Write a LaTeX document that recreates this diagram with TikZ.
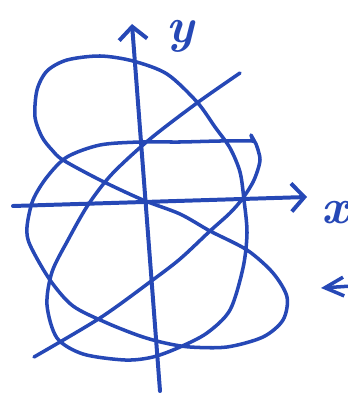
\documentclass[tikz,border=0pt]{standalone}
\usepackage{fontspec}
\usetikzlibrary{arrows.meta}
\definecolor{inkblue}{RGB}{38,72,182}
\tikzset{
  pen/.style={draw=inkblue, line width=3pt, line cap=round, line join=round},
  axis/.style={pen, line width=3.4pt, -{Straight Barb[length=11pt,width=24pt]}},
  letter/.style={text=inkblue, font=\fontsize{42}{42}\selectfont\bfseries\itshape, inner sep=0pt}
}
\begin{document}
\begin{tikzpicture}[x=0.03cm, y=-0.03cm]
  \useasboundingbox (0,0) rectangle (348,404);

  % Axes
  \coordinate (xstart) at (13,206);
  \coordinate (xend) at (307,197);
  \coordinate (ystart) at (160,391);
  \coordinate (yend) at (132,24);
  \draw[axis] (xstart) -- (xend);
  \draw[axis] (ystart) -- (yend);
  \node[letter] (xlabel) at (335,213) {x};
  \node[letter] (ylabel) at (180,36) {y};

  % Arrow cut off at the right edge
  \coordinate (marktail) at (352,286);
  \coordinate (markhead) at (321,288);
  \draw[pen, -{Straight Barb[length=16pt,width=16pt]}] (marktail) -- (markhead);

  % The curve, drawn in one stroke
  \draw[pen] plot[smooth] coordinates {
      (240,73) (197,103) (150,139) (112,174) (88,205) (68,240) (52,272)
      (47,305) (57,338) (83,354) (125,360) (153,357) (180,347) (207,333)
      (230,310) (243,268) (247,233) (244,200) (240,172) (230,148) (215,127)
      (197,102) (167,74) (133,61) (100,56) (67,60) (47,71) (37,90) (35,117)
      (42,137) (52,150) (63,160) (100,180) (143,200) (180,214) (210,231)
      (247,250) (273,273) (287,297) (283,320) (263,337) (227,347) (190,347)
      (165,343) (140,336) (107,323) (73,306) (50,280) (30,245) (27,227)
      (33,200) (47,177) (67,157) (100,145) (140,142) (180,142) (220,141)
      (253,141)}
    -- (251,135) -- (256,144)
    -- plot[smooth] coordinates {
      (256,144) (260,160) (254,180) (243,198) (230,213) (210,231) (180,259)
      (150,282) (100,318) (34,357)};
\end{tikzpicture}
\end{document}
